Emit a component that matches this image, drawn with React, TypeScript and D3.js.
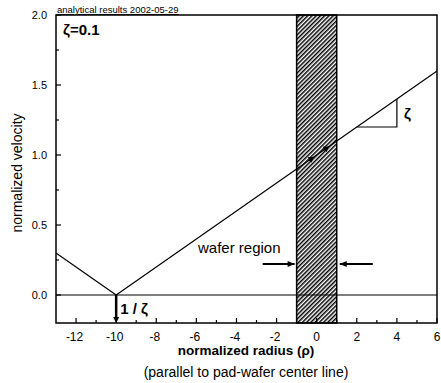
import React, { useRef, useEffect } from "react";
import * as d3 from "d3";

// V-shaped velocity profile, zeta = 0.1
const profileRho = [-13, -10, 6];
const profileVel = [0.3, 0, 1.6];

const xMajorTicks = [-12, -10, -8, -6, -4, -2, 0, 2, 4, 6];
const xMinorTicks = [-11, -9, -7, -5, -3, -1, 1, 3, 5];
const yMajorTicks = [0, 0.5, 1.0, 1.5, 2.0];
const yMinorTicks = [0.25, 0.75, 1.25, 1.75];

const waferRegion = [-1, 1];
// slope triangle corners (rho, vel)
const slopeTri = [
  [2, 1.2],
  [4, 1.2],
  [4, 1.4],
];

const width = 441;
const height = 383;

export default function App() {
  const svgRef = useRef(null);

  useEffect(() => {
    const svg = d3.select(svgRef.current);
    svg.selectAll("*").remove();

    const margin = { top: 15, right: 3, bottom: 60, left: 56 };
    const x = d3.scaleLinear().domain([-13, 6]).range([margin.left, width - margin.right - 1]);
    const y = d3.scaleLinear().domain([-0.2, 2.0]).range([height - margin.bottom, margin.top]);
    const font = "'Liberation Sans', Arial, sans-serif";

    const defs = svg.append("defs");
    const pat = defs
      .append("pattern")
      .attr("id", "hatch")
      .attr("patternUnits", "userSpaceOnUse")
      .attr("width", 3)
      .attr("height", 3)
      .attr("patternTransform", "rotate(45)");
    pat.append("rect").attr("width", 3).attr("height", 3).attr("fill", "#fff");
    pat
      .append("line")
      .attr("x1", 0.75)
      .attr("y1", 0)
      .attr("x2", 0.75)
      .attr("y2", 3)
      .attr("stroke", "#000")
      .attr("stroke-width", 1.5);

    const [x0, x1] = x.range();
    const [yb, yt] = y.range();

    // hatched wafer region
    svg
      .append("rect")
      .attr("x", x(waferRegion[0]))
      .attr("y", yt)
      .attr("width", x(waferRegion[1]) - x(waferRegion[0]))
      .attr("height", yb - yt)
      .attr("fill", "url(#hatch)")
      .attr("stroke", "#000")
      .attr("stroke-width", 1.5);

    // zero line
    svg
      .append("line")
      .attr("x1", x0)
      .attr("x2", x1)
      .attr("y1", y(0))
      .attr("y2", y(0))
      .attr("stroke", "#000")
      .attr("stroke-width", 1.2);

    // profile
    const pts = profileRho.map((r, i) => [r, profileVel[i]] as [number, number]);
    svg
      .append("path")
      .datum(pts)
      .attr("fill", "none")
      .attr("stroke", "#000")
      .attr("stroke-width", 1.2)
      .attr(
        "d",
        d3
          .line<[number, number]>()
          .x((d) => x(d[0]))
          .y((d) => y(d[1]))
      );

    // slope triangle
    svg
      .append("path")
      .datum(slopeTri)
      .attr("fill", "none")
      .attr("stroke", "#000")
      .attr("stroke-width", 1.2)
      .attr(
        "d",
        d3
          .line<number[]>()
          .x((d) => x(d[0]))
          .y((d) => y(d[1]))
      );
    svg
      .append("text")
      .attr("x", x(4) + 7)
      .attr("y", y(1.3) + 6)
      .attr("font-family", font)
      .attr("font-size", 15)
      .attr("font-weight", "bold")
      .text("ζ");

    // small arrows on line inside wafer region
    const arrowAt = (r: number) => {
      const cx = x(r);
      const cy = y(0.1 * (r + 10));
      const ang = Math.atan2(y(1) - y(0), x(10) - x(0));
      svg
        .append("path")
        .attr("d", "M-5,0 L0,0 M0,0 L-3,-2 L-3,2 Z")
        .attr("transform", `translate(${cx},${cy}) rotate(${(ang * 180) / Math.PI})`)
        .attr("stroke", "#000")
        .attr("stroke-width", 1.5)
        .attr("fill", "#000");
    };
    arrowAt(-0.2);
    arrowAt(0.55);

    // box
    svg
      .append("rect")
      .attr("x", x0)
      .attr("y", yt)
      .attr("width", x1 - x0)
      .attr("height", yb - yt)
      .attr("fill", "none")
      .attr("stroke", "#000")
      .attr("stroke-width", 1.5);

    // x ticks (inward)
    const gx = svg.append("g");
    gx.selectAll(".maj")
      .data(xMajorTicks)
      .enter()
      .append("line")
      .attr("x1", (d) => x(d))
      .attr("x2", (d) => x(d))
      .attr("y1", yb)
      .attr("y2", yb - 5)
      .attr("stroke", "#000")
      .attr("stroke-width", 1.2);
    gx.selectAll(".min")
      .data(xMinorTicks)
      .enter()
      .append("line")
      .attr("x1", (d) => x(d))
      .attr("x2", (d) => x(d))
      .attr("y1", yb)
      .attr("y2", yb - 3)
      .attr("stroke", "#000")
      .attr("stroke-width", 1.2);
    gx.selectAll("text")
      .data(xMajorTicks)
      .enter()
      .append("text")
      .attr("x", (d) => x(d) + (d < 0 ? -1.5 : 0))
      .attr("y", yb + 18)
      .attr("text-anchor", "middle")
      .attr("font-family", font)
      .attr("font-size", 12)
      .text((d) => String(d));

    // y ticks (inward)
    const gy = svg.append("g");
    gy.selectAll(".maj")
      .data(yMajorTicks)
      .enter()
      .append("line")
      .attr("x1", x0)
      .attr("x2", x0 + 5)
      .attr("y1", (d) => y(d))
      .attr("y2", (d) => y(d))
      .attr("stroke", "#000")
      .attr("stroke-width", 1.2);
    gy.selectAll(".min")
      .data(yMinorTicks)
      .enter()
      .append("line")
      .attr("x1", x0)
      .attr("x2", x0 + 3)
      .attr("y1", (d) => y(d))
      .attr("y2", (d) => y(d))
      .attr("stroke", "#000")
      .attr("stroke-width", 1.2);
    gy.selectAll("text")
      .data(yMajorTicks)
      .enter()
      .append("text")
      .attr("x", x0 - 9)
      .attr("y", (d) => y(d) + 4)
      .attr("text-anchor", "end")
      .attr("font-family", font)
      .attr("font-size", 11)
      .text((d) => d3.format(".1f")(d));

    // axis titles
    svg
      .append("text")
      .attr("x", 246)
      .attr("y", 355)
      .attr("text-anchor", "middle")
      .attr("font-family", font)
      .attr("font-size", 13.5)
      .attr("font-weight", "bold")
      .text("normalized radius (ρ)");
    svg
      .append("text")
      .attr("x", 246)
      .attr("y", 377)
      .attr("text-anchor", "middle")
      .attr("font-family", font)
      .attr("font-size", 14)
      .text("(parallel to pad-wafer center line)");
    svg
      .append("text")
      .attr("transform", `translate(22,173) rotate(-90)`)
      .attr("text-anchor", "middle")
      .attr("font-family", font)
      .attr("font-size", 14)
      .text("normalized velocity");

    // header + labels
    svg
      .append("text")
      .attr("x", x0 + 1)
      .attr("y", yt - 2)
      .attr("font-family", font)
      .attr("font-size", 9.5)
      .attr("text-decoration", "underline")
      .text("analytical results 2002-05-29");
    svg
      .append("text")
      .attr("x", x0 + 7)
      .attr("y", yt + 20)
      .attr("font-family", font)
      .attr("font-size", 15)
      .attr("font-weight", "bold")
      .text("ζ=0.1");

    // 1/zeta marker
    svg
      .append("line")
      .attr("x1", x(-10))
      .attr("x2", x(-10))
      .attr("y1", y(0))
      .attr("y2", yb - 4)
      .attr("stroke", "#000")
      .attr("stroke-width", 2.5);
    svg
      .append("path")
      .attr("d", `M${x(-10) - 3},${yb - 6} L${x(-10) + 3},${yb - 6} L${x(-10)},${yb} Z`)
      .attr("fill", "#000");
    svg
      .append("text")
      .attr("x", x(-10) + 4)
      .attr("y", y(0) + 19)
      .attr("font-family", font)
      .attr("font-size", 15)
      .attr("font-weight", "bold")
      .text("1 / ζ");

    // wafer region label and arrows
    svg
      .append("text")
      .attr("x", 198)
      .attr("y", 253)
      .attr("font-family", font)
      .attr("font-size", 15)
      .text("wafer region");
    const arrowY = 264;
    const drawArrow = (from: number, to: number) => {
      svg
        .append("line")
        .attr("x1", from)
        .attr("x2", to)
        .attr("y1", arrowY)
        .attr("y2", arrowY)
        .attr("stroke", "#000")
        .attr("stroke-width", 2);
      const dir = Math.sign(to - from);
      svg
        .append("path")
        .attr("d", `M${to},${arrowY} L${to - dir * 7},${arrowY - 3} L${to - dir * 7},${arrowY + 3} Z`)
        .attr("fill", "#000");
    };
    drawArrow(x(waferRegion[0]) - 34, x(waferRegion[0]) - 2);
    drawArrow(x(waferRegion[1]) + 36, x(waferRegion[1]) + 3);
  }, []);

  return (
    <svg
      ref={svgRef}
      width={width}
      height={height}
      style={{ position: "absolute", left: 0, top: 0, background: "#fff" }}
    ></svg>
  );
}
